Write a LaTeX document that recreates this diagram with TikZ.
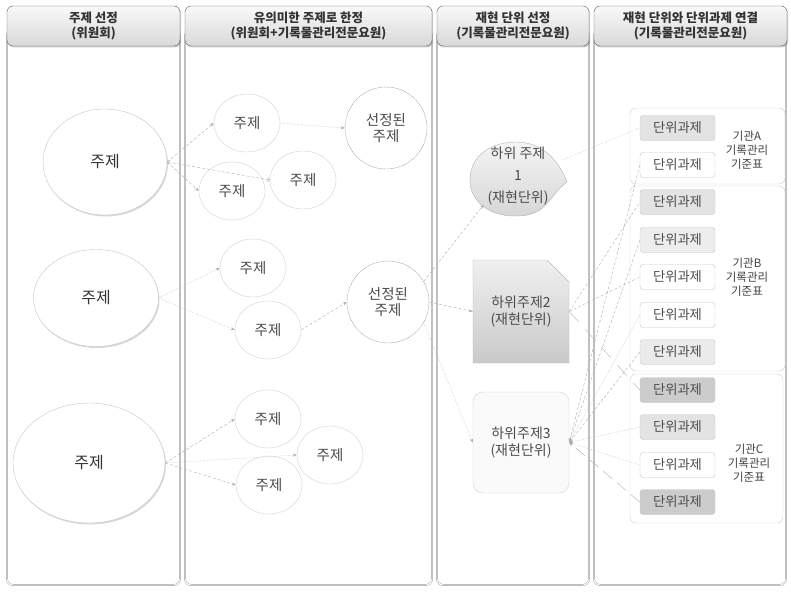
\documentclass[tikz,border=0pt]{standalone}
\usepackage{fontspec}
\setmainfont{Noto Sans CJK KR}
\usetikzlibrary{shapes.geometric,shapes.misc,shadows,arrows.meta}
\tikzset{
  panel/.style={draw=gray!75, double=white, double distance=0.9pt, rounded corners=6pt},
  header/.style={draw=gray!75!black, rounded corners=6pt, top color=gray!5, bottom color=gray!30,
    drop shadow={opacity=0.4, shadow xshift=1pt, shadow yshift=-1.5pt}, align=center,
    font=\bfseries\fontsize{12.5}{15}\selectfont, text=black!80, minimum height=40pt, inner sep=0pt},
  bigtopic/.style={ellipse, draw=gray!45, fill=white, drop shadow={opacity=0.3, shadow xshift=1pt, shadow yshift=-1.5pt},
    inner sep=0pt, font=\fontsize{16}{18}\selectfont, text=black!80},
  topic/.style={ellipse, draw=gray!35, fill=white, minimum width=66pt, minimum height=58pt, inner sep=0pt,
    font=\fontsize{14.5}{16}\selectfont, text=black!70},
  chosen/.style={circle, draw=gray!75, dash pattern=on 1.5pt off 0.6pt, fill=white, minimum size=82pt, inner sep=0pt,
    align=center, font=\fontsize{14.5}{16}\selectfont, text=black!70},
  unitlabel/.style={align=center, font=\fontsize{14}{17}\selectfont, text=black!70, inner sep=0pt, minimum width=96pt},
  blob/.style={draw=gray!60, top color=gray!8, bottom color=gray!32},
  taskbox/.style={draw=gray!45, rounded corners=3pt, minimum width=75pt, minimum height=25pt, inner sep=0pt,
    font=\fontsize{13.3}{15}\selectfont, text=black!70},
  groupframe/.style={draw=gray!40, rounded corners=6pt},
  agency/.style={align=center, font=\fontsize{11.5}{14}\selectfont, text=black!75},
  link/.style={-{Stealth[length=4pt,width=3pt]}, densely dashed, gray!65, thin},
  dotlink/.style={-{Stealth[length=4pt,width=3pt]}, densely dotted, gray!65, thin},
  plainlink/.style={densely dashed, gray!60, thin},
}
\begin{document}
\begin{tikzpicture}[x=1pt, y=-1pt]
\useasboundingbox (0,0) rectangle (791,591);
% panels and headers
\draw[panel] (7,30) rectangle (180,585);
\draw[panel] (185,30) rectangle (432,585);
\draw[panel] (437,30) rectangle (589,585);
\draw[panel] (594,30) rectangle (786,585);
\node[header, minimum width=173pt] (head1) at (93.5,26) {주제 선정\\(위원회)};
\node[header, minimum width=247pt] (head2) at (308.5,26) {유의미한 주제로 한정\\(위원회+기록물관리전문요원)};
\node[header, minimum width=152pt] (head3) at (513,26) {재현 단위 선정\\(기록물관리전문요원)};
\node[header, minimum width=193pt] (head4) at (690.5,26) {재현 단위와 단위과제 연결\\(기록물관리전문요원)};

% first column
\node[bigtopic, minimum width=124pt, minimum height=106pt] (topic1) at (105,162) {주제};
\node[bigtopic, minimum width=125pt, minimum height=97pt] (topic2) at (96,298) {주제};
\node[bigtopic, minimum width=152pt, minimum height=120pt] (topic3) at (89,463) {주제};

% second column
\node[topic] (sub11) at (247,123) {주제};
\node[topic] (sub12) at (232,191) {주제};
\node[topic] (sub13) at (303,180) {주제};
\node[chosen] (pick1) at (386,128) {선정된\\주제};
\node[topic] (sub21) at (253,268) {주제};
\node[topic] (sub22) at (268,330) {주제};
\node[chosen] (pick2) at (388,302) {선정된\\주제};
\node[topic] (sub31) at (268,419) {주제};
\node[topic] (sub33) at (269,485) {주제};
\node[topic] (sub32) at (330,455) {주제};

\draw[link] (topic1.east) -- (sub11.west);
\draw[link, <->] (topic1.east) -- (sub13.west);
\draw[link] (topic1.east) -- (sub12.west);
\draw[dotlink] (sub11.east) -- (pick1.west);
\draw[dotlink] (topic2.east) -- (sub21.west);
\draw[dotlink] (topic2.east) -- (sub22.west);
\draw[link] (sub22.east) -- (pick2.west);
\draw[link] (topic3.east) -- (sub31.west);
\draw[dotlink] (topic3.east) -- (sub32.west);
\draw[link] (topic3.east) -- (sub33.west);

% third column
\path[blob] (470,180) .. controls (470,155) and (492,142) .. (516,142)
  .. controls (540,142) and (558,158) .. (567,182)
  .. controls (556,190) and (552,200) .. (540,210)
  .. controls (530,216) and (522,216) .. (514,216)
  .. controls (490,216) and (470,202) .. (470,180) -- cycle;
\node[unitlabel, ellipse, minimum height=74pt, font=\fontsize{14}{22}\selectfont] (unit1) at (518,176) {하위 주제\\1\\(재현단위)};
\node[unitlabel, chamfered rectangle, chamfered rectangle corners=north east, chamfered rectangle sep=11pt,
  minimum height=103pt, draw=gray!55, top color=gray!12, bottom color=gray!42] (unit2) at (521,311.5) {하위주제2\\(재현단위)};
\node[unitlabel, rectangle, rounded corners=10pt, draw=gray!35, fill=gray!4, minimum height=101pt] (unit3) at (521,442.5) {하위주제3\\(재현단위)};

\draw[link] (pick2.30) -- (unit1.220);
\draw[link] (pick2.east) -- (unit2.west);
\draw[dotlink] (pick2.-30) -- (unit3.west);

% fourth column
\draw[groupframe] (630,108) rectangle (785,184);
\draw[groupframe] (630,186) rectangle (785,371);
\draw[groupframe] (630,374) rectangle (783,523);
\node[taskbox, fill=gray!22] (task1) at (677.5,128) {단위과제};
\node[taskbox, fill=white] (task2) at (677.5,165) {단위과제};
\node[taskbox, fill=gray!22] (task3) at (677.5,202) {단위과제};
\node[taskbox, fill=gray!14] (task4) at (677.5,240) {단위과제};
\node[taskbox, fill=white] (task5) at (677.5,277) {단위과제};
\node[taskbox, fill=white] (task6) at (677.5,315) {단위과제};
\node[taskbox, fill=gray!16] (task7) at (677.5,352) {단위과제};
\node[taskbox, fill=gray!40] (task8) at (677.5,390) {단위과제};
\node[taskbox, fill=gray!22] (task9) at (677.5,427) {단위과제};
\node[taskbox, fill=white] (task10) at (677.5,465) {단위과제};
\node[taskbox, fill=gray!40] (task11) at (677.5,502) {단위과제};
\node[agency] (orgA) at (747,150) {기관A\\기록관리\\기준표};
\node[agency] (orgB) at (747,277) {기관B\\기록관리\\기준표};
\node[agency] (orgC) at (749,463) {기관C\\기록관리\\기준표};

\draw[plainlink, densely dotted] (unit1.20) -- (task1.west);
\draw[plainlink] (unit2.east) -- (task3.west);
\draw[plainlink] (unit2.east) -- (task5.west);
\draw[plainlink, dash pattern=on 14pt off 10pt] (unit2.east) -- (task8.west);
\draw[link] (task2.west) -- (unit3.east);
\draw[link] (task4.west) -- (unit3.east);
\draw[dotlink] (task6.west) -- (unit3.east);
\draw[link] (task7.west) -- (unit3.east);
\draw[dotlink] (task9.west) -- (unit3.east);
\draw[dotlink] (task10.west) -- (unit3.east);
\draw[link, dash pattern=on 12pt off 6pt] (task11.west) -- (unit3.east);
\end{tikzpicture}
\end{document}
